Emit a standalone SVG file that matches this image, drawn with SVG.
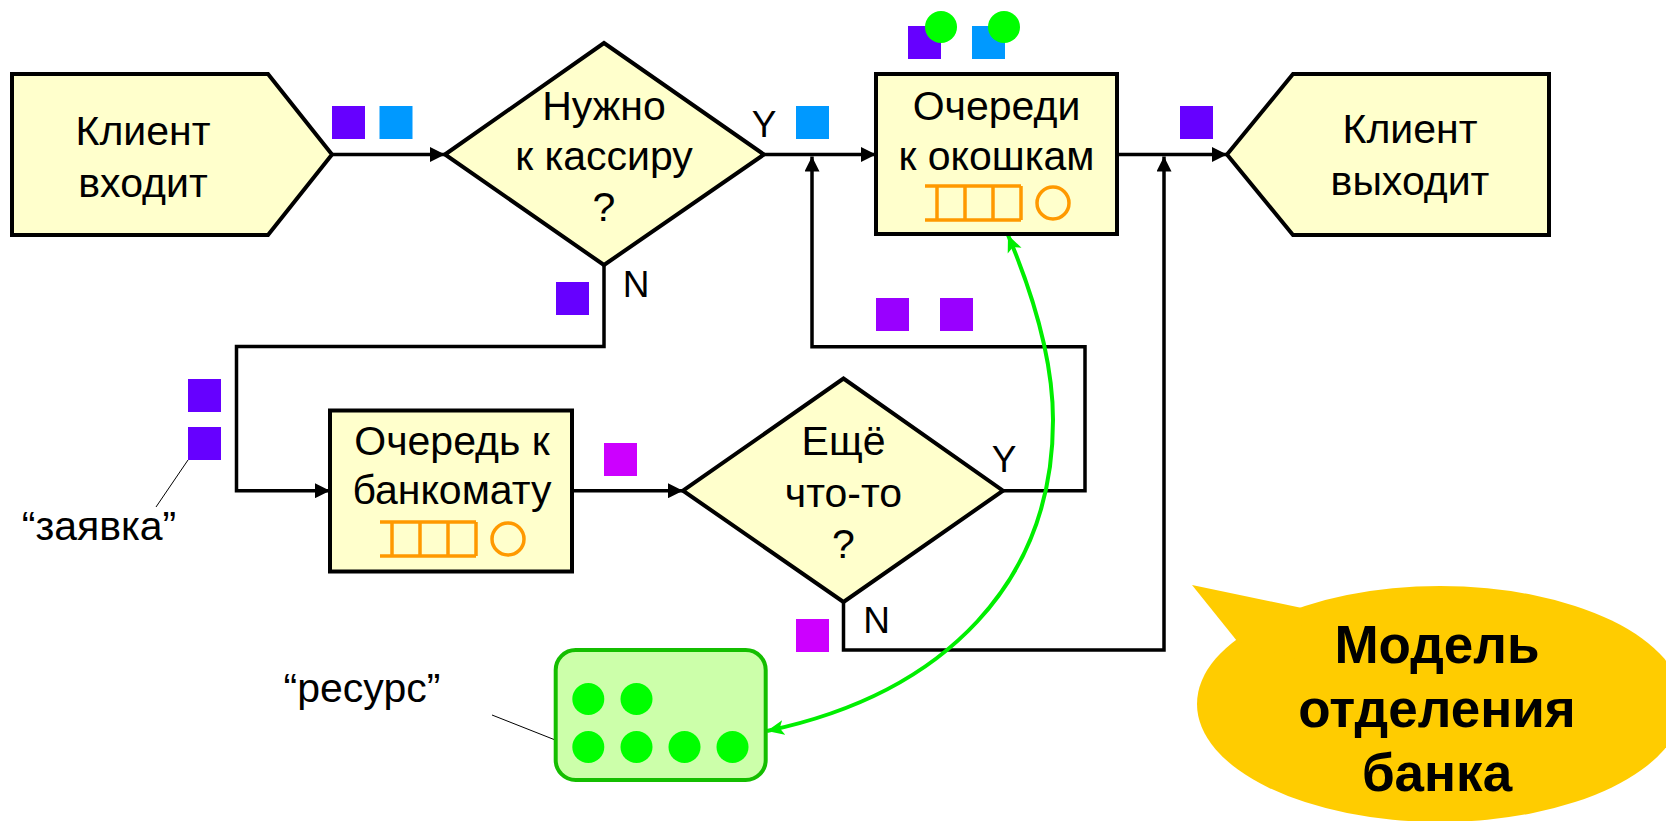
<svg xmlns="http://www.w3.org/2000/svg" width="1666" height="821" viewBox="0 0 1666 821">
  <style>
    .node { fill: #FFFFCC; stroke: #000; stroke-width: 4; stroke-linejoin: miter; }
    .lbl { font-family: "Liberation Sans", Arial, sans-serif; font-size: 41px; fill: #000; text-anchor: middle; }
    .yn { font-family: "Liberation Sans", Arial, sans-serif; font-size: 37px; fill: #000; text-anchor: middle; }
    .call { font-family: "Liberation Sans", Arial, sans-serif; font-size: 53px; font-weight: bold; fill: #000; text-anchor: middle; }
    .conn { fill: none; stroke: #000; stroke-width: 3.5; marker-end: url(#arrow); }
    .q { fill: none; stroke: #FF9900; stroke-width: 3.5; }
    .p1 { fill: #6600FF; }
    .p2 { fill: #0099FF; }
    .p3 { fill: #9900FF; }
    .p4 { fill: #CC00FF; }
    .tok { fill: #00FF00; }
    .lead { stroke: #000; stroke-width: 1; fill: none; }
  </style>
  <defs>
    <marker id="arrow" markerUnits="userSpaceOnUse" markerWidth="15" markerHeight="15" refX="15" refY="7.5" orient="auto">
      <path d="M0,0 L15,7.5 L0,15 z" fill="#000"/>
    </marker>
    <marker id="garrow" markerUnits="userSpaceOnUse" markerWidth="17" markerHeight="17" refX="17" refY="8.5" orient="auto-start-reverse">
      <path d="M0,1 L17,8.5 L0,16 L4,8.5 z" fill="#00EE00"/>
    </marker>
    <g id="queue">
      <path class="q" d="M0,0 H96 M0,34 H96 M12,0 V34 M40,0 V34 M68,0 V34 M96,0 V34"/>
      <circle class="q" cx="128" cy="17" r="16"/>
    </g>
    <rect id="sq" width="33" height="33"/>
  </defs>

  <!-- connectors -->
  <g id="connectors">
    <path class="conn" d="M332,154.5 H445"/>
    <path class="conn" d="M764,154.5 H876"/>
    <path class="conn" d="M1117,154.5 H1227"/>
    <path class="conn" d="M604,265 V346.5 H236.5 V490.7 H330"/>
    <path class="conn" d="M572,490.7 H683"/>
    <path class="conn" d="M1003,490.7 H1085 V346.7 H812 V156.5"/>
    <path class="conn" d="M843.5,602 V650 H1164 V156.5"/>
    <path d="M767,731 C947,693 1053,580 1053,420 C1053,350 1027,280 1008,235" fill="none" stroke="#00EE00" stroke-width="4" marker-start="url(#garrow)" marker-end="url(#garrow)"/>
    <path class="lead" d="M188,460 L156,507"/>
    <path class="lead" d="M492,715 L573,747"/>
  </g>

  <!-- Клиент входит -->
  <g id="enter">
    <polygon class="node" points="12,74 268,74 332,154.5 268,235 12,235"/>
    <text class="lbl" x="143" y="145">Клиент</text>
    <text class="lbl" x="143" y="197">входит</text>
  </g>

  <!-- Нужно к кассиру ? -->
  <g id="decision-cashier">
    <polygon class="node" points="445,154.5 604,43 764,154.5 604,265"/>
    <text class="lbl" x="604" y="120">Нужно</text>
    <text class="lbl" x="604" y="170">к кассиру</text>
    <text class="lbl" x="604" y="221">?</text>
    <text class="yn" x="764" y="137">Y</text>
    <text class="yn" x="636" y="297">N</text>
  </g>

  <!-- Очереди к окошкам -->
  <g id="windows-queue">
    <rect class="node" x="876" y="74" width="241" height="160"/>
    <text class="lbl" x="996.5" y="120">Очереди</text>
    <text class="lbl" x="996.5" y="170">к окошкам</text>
    <use href="#queue" x="925" y="186"/>
  </g>

  <!-- Клиент выходит -->
  <g id="exit">
    <polygon class="node" points="1227,154.5 1293,74 1549,74 1549,235 1293,235"/>
    <text class="lbl" x="1410" y="143">Клиент</text>
    <text class="lbl" x="1410" y="195">выходит</text>
  </g>

  <!-- Очередь к банкомату -->
  <g id="atm-queue">
    <rect class="node" x="330" y="410.5" width="242" height="161"/>
    <text class="lbl" x="452" y="455">Очередь к</text>
    <text class="lbl" x="452" y="504">банкомату</text>
    <use href="#queue" x="380" y="522"/>
  </g>

  <!-- Ещё что-то ? -->
  <g id="decision-more">
    <polygon class="node" points="683,490.7 843.5,378.5 1003,490.7 843.5,602"/>
    <text class="lbl" x="843.5" y="455">Ещё</text>
    <text class="lbl" x="843.5" y="507">что-то</text>
    <text class="lbl" x="843.5" y="558">?</text>
    <text class="yn" x="1004" y="472">Y</text>
    <text class="yn" x="876.5" y="633">N</text>
  </g>

  <!-- ресурс -->
  <g id="resource">
    <rect x="555.7" y="650" width="210" height="130" rx="20" ry="20" fill="#CCFFAA" stroke="#14BE00" stroke-width="4"/>
    <circle class="tok" cx="588.3" cy="699" r="16"/>
    <circle class="tok" cx="636.5" cy="699" r="16"/>
    <circle class="tok" cx="588.3" cy="747" r="16"/>
    <circle class="tok" cx="636.5" cy="747" r="16"/>
    <circle class="tok" cx="684.5" cy="747" r="16"/>
    <circle class="tok" cx="732.5" cy="747" r="16"/>
  </g>

  <!-- заявки -->
  <g id="tokens">
    <use href="#sq" class="p1" x="332" y="106"/>
    <use href="#sq" class="p2" x="379.5" y="106"/>
    <use href="#sq" class="p2" x="796" y="106"/>
    <use href="#sq" class="p1" x="1180" y="106"/>
    <use href="#sq" class="p1" x="556" y="282"/>
    <use href="#sq" class="p1" x="188" y="379"/>
    <use href="#sq" class="p1" x="188" y="427"/>
    <use href="#sq" class="p4" x="604" y="443"/>
    <use href="#sq" class="p3" x="876" y="298"/>
    <use href="#sq" class="p3" x="940" y="298"/>
    <use href="#sq" class="p4" x="796" y="619"/>
    <use href="#sq" class="p1" x="908" y="26"/>
    <circle class="tok" cx="941" cy="27" r="16"/>
    <use href="#sq" class="p2" x="972" y="26"/>
    <circle class="tok" cx="1004" cy="27" r="16"/>
  </g>

  <g id="labels">
    <text class="lbl" x="99" y="540">“заявка”</text>
    <text class="lbl" x="362" y="702">“ресурс”</text>
  </g>

  <!-- выноска -->
  <g id="callout">
    <ellipse cx="1440" cy="704" rx="243" ry="118" fill="#FFCC00"/>
    <polygon points="1237,641 1192,585 1302,608 1300,660" fill="#FFCC00"/>
    <text class="call" x="1437" y="663">Модель</text>
    <text class="call" x="1437" y="727">отделения</text>
    <text class="call" x="1437" y="791">банка</text>
  </g>
</svg>
